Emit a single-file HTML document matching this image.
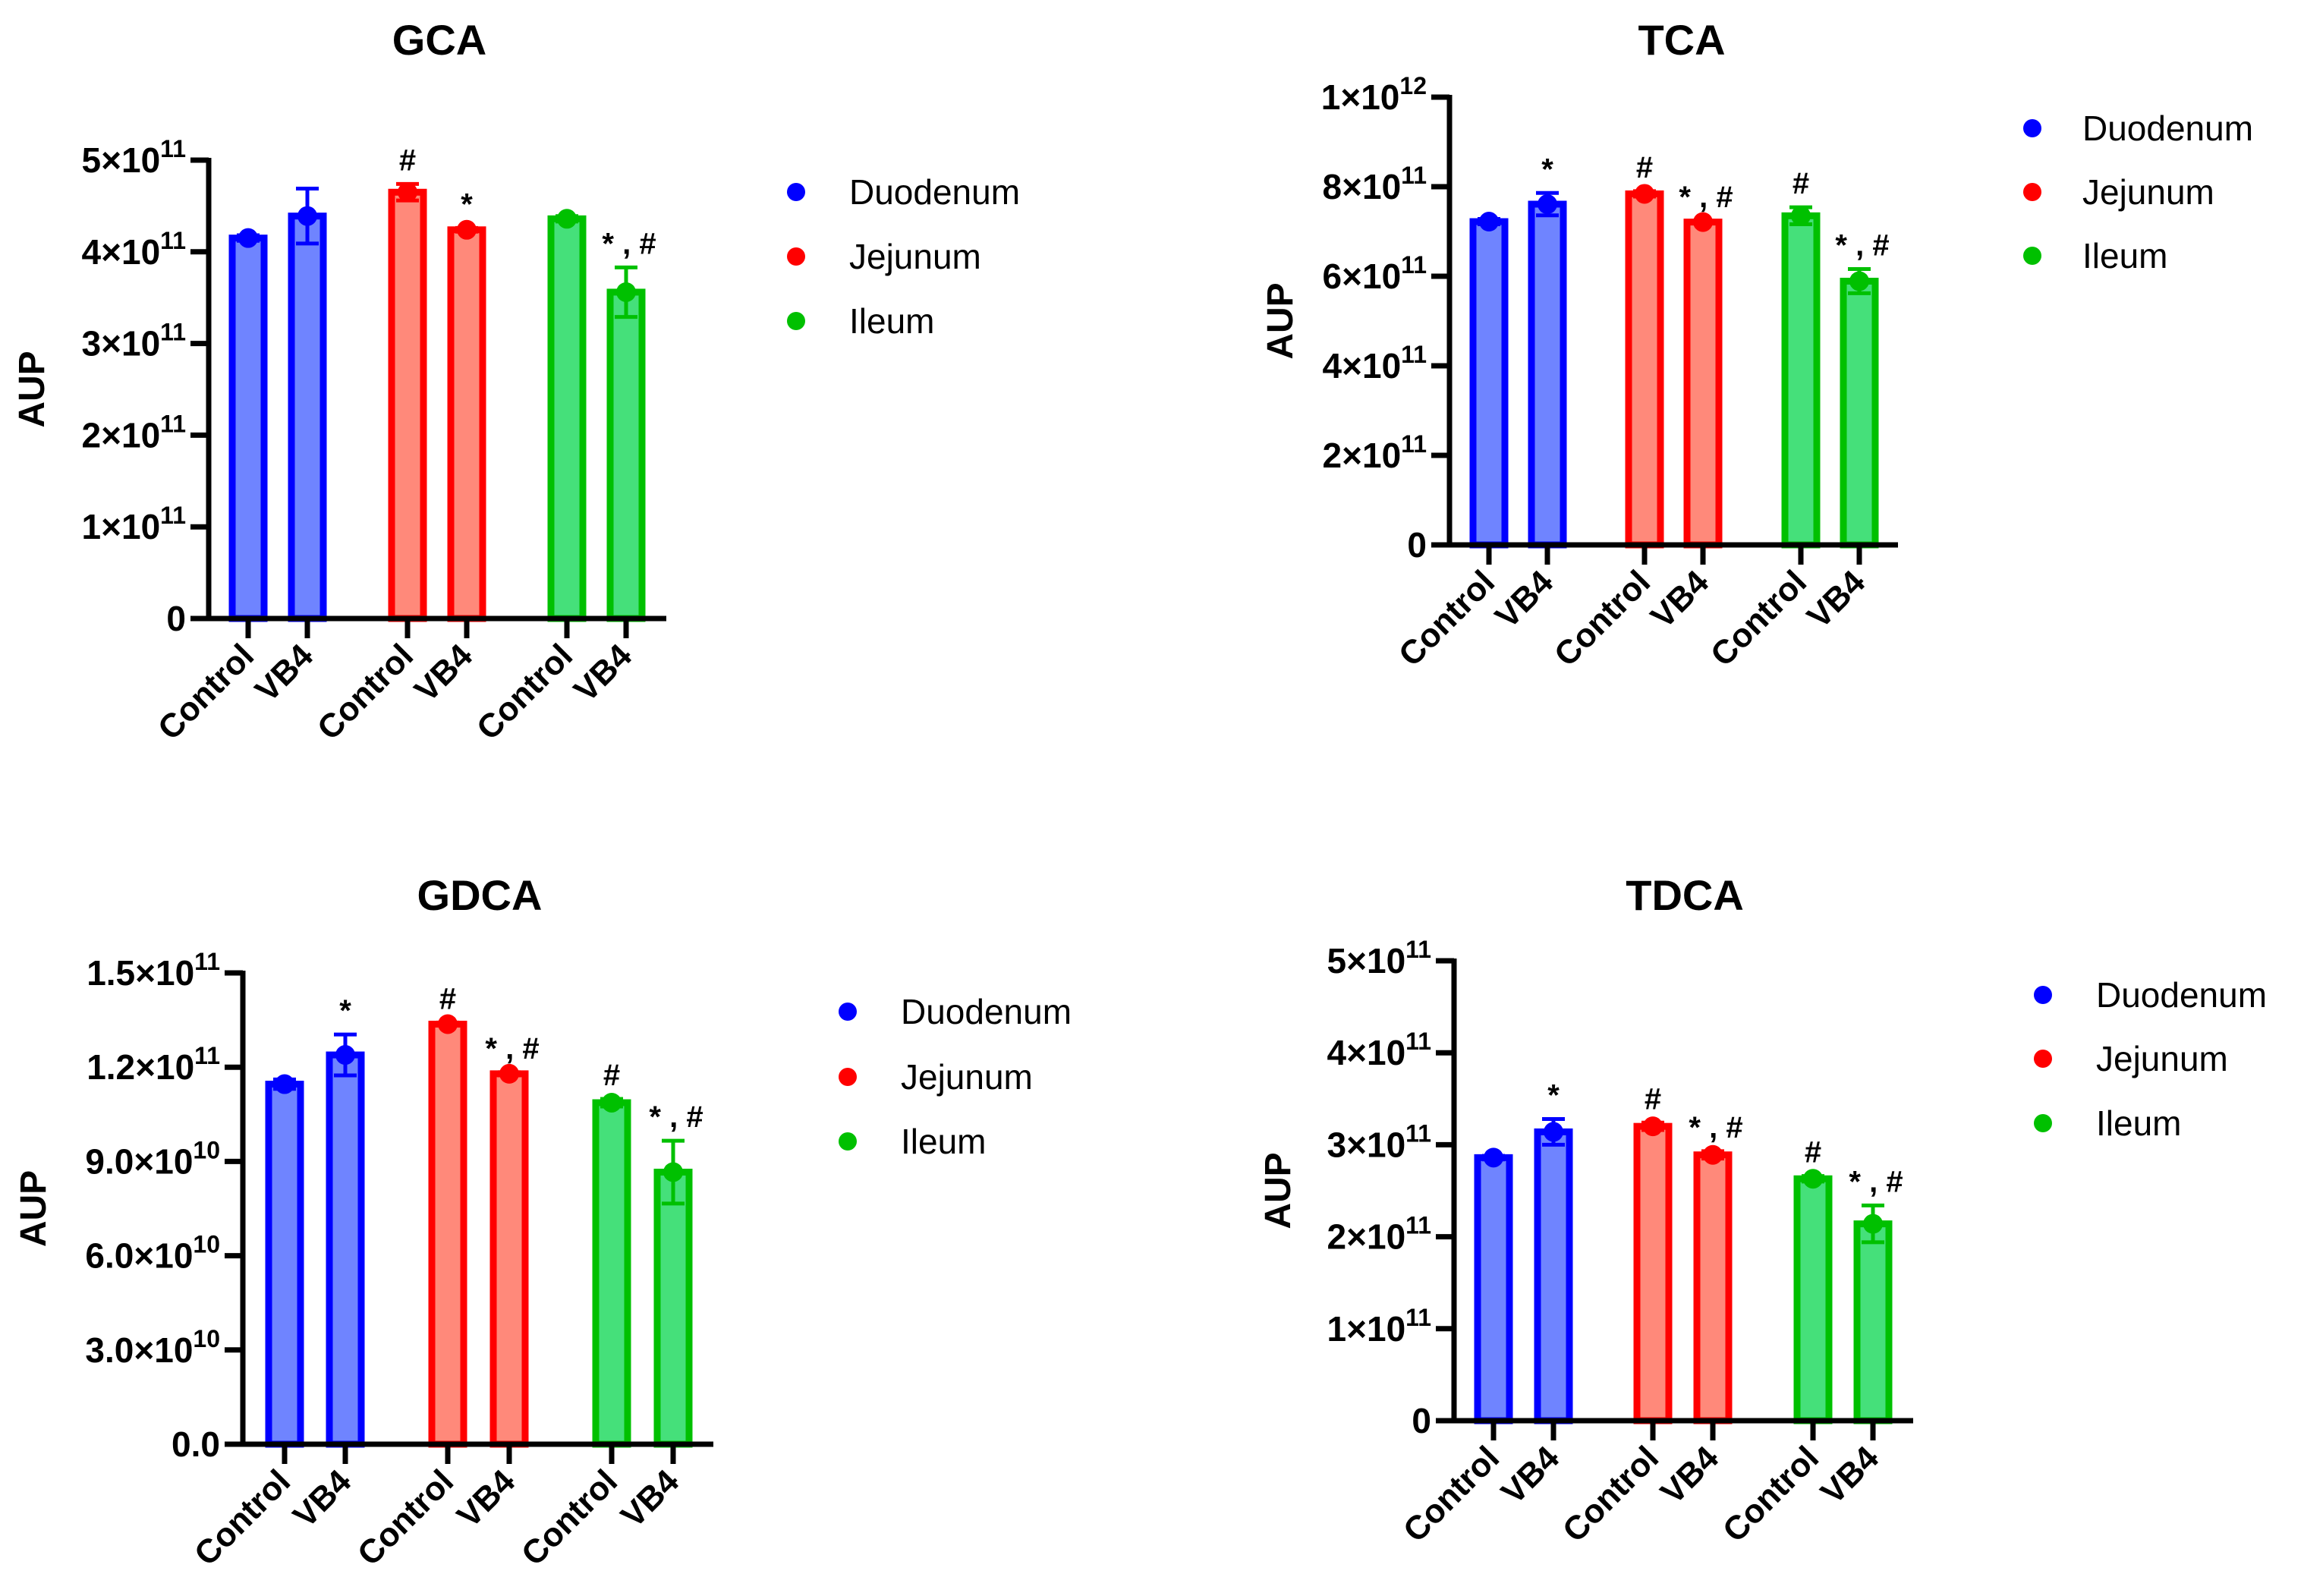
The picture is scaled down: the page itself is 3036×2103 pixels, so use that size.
<!DOCTYPE html>
<html><head><meta charset="utf-8">
<style>
html,body{margin:0;padding:0;background:#fff;overflow:hidden;}
svg{display:block;}
text{font-family:"Liberation Sans",Arial,sans-serif;}
.tick{font-family:"Liberation Sans Narrow","Liberation Sans",sans-serif;font-weight:bold;}
</style></head>
<body>
<svg id="fig" width="3036" height="2103" viewBox="0 0 3036 2103" xmlns="http://www.w3.org/2000/svg"></svg>
<script>
// ---- data ----
const categories = ["Control","VB4","Control","VB4","Control","VB4"];
const legendLabels = ["Duodenum","Jejunum","Ileum"];
const gcaValues = [4.15, 4.39, 4.65, 4.24, 4.36, 3.56];
const gcaErrors = [0.03, 0.30, 0.09, 0.02, 0.03, 0.27];
const gcaNotes  = ["", "", "#", "*", "", "*, #"];
const gcaTicks  = ["0","1×10|11","2×10|11","3×10|11","4×10|11","5×10|11"];
const tcaValues = [7.22, 7.61, 7.84, 7.21, 7.35, 5.89];
const tcaErrors = [0.06, 0.25, 0.06, 0.03, 0.19, 0.27];
const tcaNotes  = ["", "*", "#", "*, #", "#", "*, #"];
const tcaTicks  = ["0","2×10|11","4×10|11","6×10|11","8×10|11","1×10|12"];
const gdcaValues = [11.46, 12.39, 13.37, 11.79, 10.87, 8.66];
const gdcaErrors = [0.15, 0.65, 0.05, 0.05, 0.12, 1.0];
const gdcaNotes  = ["", "*", "#", "*, #", "#", "*, #"];
const gdcaTicks  = ["0.0","3.0×10|10","6.0×10|10","9.0×10|10","1.2×10|11","1.5×10|11"];
const tdcaValues = [2.86, 3.14, 3.20, 2.89, 2.63, 2.14];
const tdcaErrors = [0.02, 0.14, 0.04, 0.04, 0.03, 0.20];
const tdcaNotes  = ["", "*", "#", "*, #", "#", "*, #"];
const tdcaTicks  = ["0","1×10|11","2×10|11","3×10|11","4×10|11","5×10|11"];

const strokes = ["#0000ff","#ff0000","#00c000"];
const fills = ["#6f84ff","#ff897a","#45e07a"];
const NS = "http://www.w3.org/2000/svg";
const svg = document.getElementById("fig");

function el(tag, attrs, parent, txt){
  const e = document.createElementNS(NS, tag);
  for (const k in attrs) e.setAttribute(k, attrs[k]);
  if (txt !== undefined) e.textContent = txt;
  parent.appendChild(e);
  return e;
}

function panel(p){
  const g = el("g", {}, svg);
  
  
  const yScale = v => p.zero - (v / p.max) * (p.zero - p.top);
  const t = el("text", {x:p.titleX, y:p.titleY, "font-size":56, "font-weight":"bold", "text-anchor":"middle"}, g, p.title);
  
  
  const cy = (p.top + p.zero)/2;
  const at = el("text", {x:p.aupX, y:cy, "font-size":48, "font-weight":"bold", "text-anchor":"middle", transform:`rotate(-90 ${p.aupX} ${cy})`}, g, "AUP");
  
  
  p.values.forEach((v, i) => {
    const cx = p.centers[i], gi = Math.floor(i/2);
    const y = yScale(v);
    const b = el("rect", {x:cx-21, y:y, width:42, height:p.zero-y, fill:fills[gi], stroke:strokes[gi], "stroke-width":9}, g);
    
    
    const eT = yScale(v + p.errors[i]), eB = yScale(v - p.errors[i]);
    const eb = el("path", {d:`M${cx} ${eT}V${eB}M${cx-15} ${eT}H${cx+15}M${cx-15} ${eB}H${cx+15}`, stroke:strokes[gi], "stroke-width":5, fill:"none"}, g);
    
    
    const dot = el("circle", {cx:cx, cy:y, r:13, fill:strokes[gi]}, g);
    
    
    if (p.notes[i]) {
      const nt = el("text", {x:cx+ (p.notes[i].length>1?4:0), y:eT-18, "font-size":40, "font-weight":"bold", "text-anchor":"middle"}, g, p.notes[i].replace(",", " ,"));
      
      
    }
    const tk = el("line", {x1:cx, x2:cx, y1:p.zero, y2:p.zero+26, stroke:"#000", "stroke-width":7}, g);
    
    
    const lx = cx + 10, ly = p.zero + 52;
    const xl = el("text", {x:lx, y:ly, "font-size":44, "font-weight":"bold", "text-anchor":"end", transform:`rotate(-45 ${lx} ${ly})`}, g, categories[i]);
    
    
  });
  p.ticks.forEach((lab, k) => {
    const ty = yScale(k * p.max / (p.ticks.length-1));
    const tl = el("line", {x1:p.axisX-24, x2:p.axisX, y1:ty, y2:ty, stroke:"#000", "stroke-width":7}, g);
    
    
    const parts = lab.split("|");
    const tx = el("text", {x:p.axisX-30, y:ty+16, "font-size":46, "text-anchor":"end", class:"tick"}, g);
    
    
    el("tspan", {}, tx, parts[0]);
    if (parts[1]) el("tspan", {dy:-20, "font-size":32}, tx, parts[1]);
  });
  const ax = el("path", {d:`M${p.axisX} ${p.top-3}V${p.zero}H${p.xEnd}`, stroke:"#000", "stroke-width":7, fill:"none"}, g);
  
  
  legendLabels.forEach((lab, j) => {
    const ly = p.legY[j];
    const c = el("circle", {cx:p.legX, cy:ly, r:12, fill:strokes[j]}, g);
    
    
    const lt = el("text", {x:p.legTX, y:ly+16, "font-size":46}, g, lab);
    
    
  });
}

panel({key:"gca", title:"GCA", titleX:579, titleY:72, aupX:58, axisX:275, top:211, zero:815, xEnd:878, max:5,
  centers:[327,405,537,615,747,825], values:gcaValues, errors:gcaErrors, notes:gcaNotes, ticks:gcaTicks,
  legX:1049, legTX:1119, legY:[253,338,423]});
panel({key:"tca", title:"TCA", titleX:2216, titleY:72, aupX:1703, axisX:1910, top:128, zero:718, xEnd:2501, max:10,
  centers:[1962,2039,2167,2244,2373,2450], values:tcaValues, errors:tcaErrors, notes:tcaNotes, ticks:tcaTicks,
  legX:2678, legTX:2744, legY:[169,253,337]});
panel({key:"gdca", title:"GDCA", titleX:632, titleY:1199, aupX:60, axisX:320, top:1282, zero:1903, xEnd:940, max:15,
  centers:[375,455,590,671,806,887], values:gdcaValues, errors:gdcaErrors, notes:gdcaNotes, ticks:gdcaTicks,
  legX:1117, legTX:1187, legY:[1333,1419,1504]});
panel({key:"tdca", title:"TDCA", titleX:2220, titleY:1199, aupX:1700, axisX:1916, top:1266, zero:1872, xEnd:2521, max:5,
  centers:[1968,2047,2178,2257,2389,2468], values:tdcaValues, errors:tdcaErrors, notes:tdcaNotes, ticks:tdcaTicks,
  legX:2692, legTX:2762, legY:[1311,1395,1480]});
</script>
</body></html>
